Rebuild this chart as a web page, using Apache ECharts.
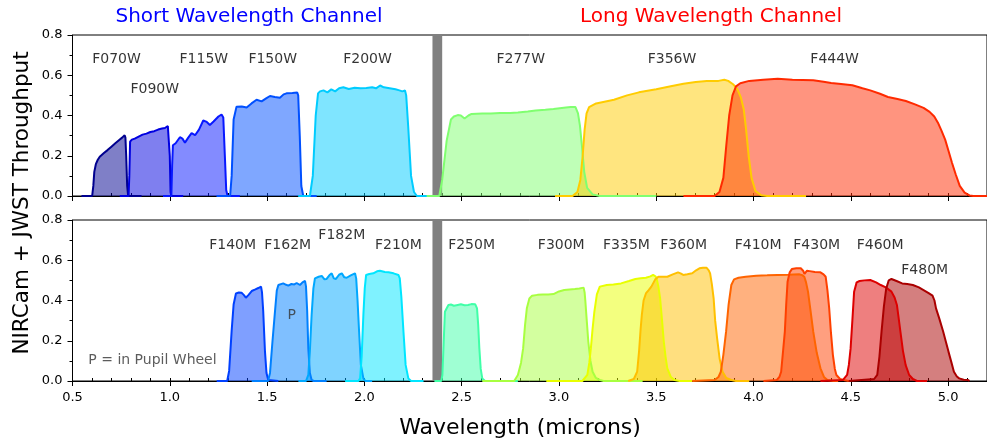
<!DOCTYPE html>
<html><head><meta charset="utf-8">
<script src="https://cdn.jsdelivr.net/npm/echarts@6/dist/echarts.min.js"></script>
<style>html,body{margin:0;padding:0;background:#fff}#c{width:987px;height:444px}</style>
</head><body><div id="c"></div><script>
// ---- Data: wavelength (microns), throughput ----
const F070W = [[0.546,0],[0.601,0],[0.607,0.05],[0.612,0.12],[0.62,0.158],[0.63,0.18],[0.64,0.195],[0.65,0.2],[0.66,0.212],[0.67,0.218],[0.68,0.228],[0.69,0.236],[0.70,0.245],[0.71,0.25],[0.72,0.262],[0.73,0.268],[0.74,0.278],[0.75,0.284],[0.755,0.29],[0.762,0.295],[0.768,0.302],[0.772,0.29],[0.776,0.2],[0.781,0.05],[0.786,0],[0.855,0]];
const F090W = [[0.743,0],[0.788,0],[0.792,0.1],[0.796,0.27],[0.805,0.28],[0.82,0.285],[0.83,0.292],[0.845,0.298],[0.86,0.305],[0.88,0.31],[0.9,0.318],[0.92,0.322],[0.94,0.33],[0.96,0.335],[0.975,0.338],[0.99,0.348],[0.996,0.34],[1.0,0.2],[1.004,0.02],[1.008,0],[1.069,0]];
const F115W = [[0.965,0],[1.008,0],[1.012,0.15],[1.016,0.252],[1.03,0.262],[1.052,0.292],[1.065,0.285],[1.078,0.265],[1.095,0.29],[1.112,0.312],[1.13,0.302],[1.15,0.33],[1.172,0.375],[1.19,0.368],[1.206,0.353],[1.225,0.37],[1.25,0.395],[1.266,0.405],[1.275,0.39],[1.283,0.2],[1.29,0.03],[1.297,0],[1.36,0]];
const F150W = [[1.24,0],[1.31,0],[1.318,0.1],[1.328,0.38],[1.343,0.444],[1.37,0.445],[1.395,0.44],[1.42,0.46],[1.446,0.478],[1.472,0.47],[1.495,0.485],[1.515,0.497],[1.54,0.492],[1.566,0.488],[1.585,0.505],[1.6,0.51],[1.63,0.512],[1.655,0.514],[1.66,0.5],[1.668,0.3],[1.676,0.05],[1.686,0],[1.755,0]];
const F200W = [[1.66,0],[1.72,0],[1.735,0.1],[1.75,0.4],[1.762,0.51],[1.772,0.52],[1.79,0.525],[1.81,0.515],[1.83,0.53],[1.85,0.52],[1.87,0.535],[1.892,0.54],[1.92,0.532],[1.95,0.538],[1.98,0.535],[2.01,0.537],[2.04,0.54],[2.06,0.535],[2.081,0.549],[2.10,0.54],[2.13,0.535],[2.16,0.53],[2.18,0.525],[2.195,0.52],[2.209,0.524],[2.215,0.5],[2.225,0.35],[2.24,0.1],[2.255,0.02],[2.27,0],[2.33,0]];
const F277W = [[2.32,0],[2.385,0],[2.40,0.08],[2.423,0.275],[2.445,0.38],[2.46,0.395],[2.48,0.402],[2.496,0.40],[2.515,0.385],[2.535,0.4],[2.551,0.408],[2.606,0.41],[2.65,0.41],[2.698,0.412],[2.75,0.412],[2.789,0.415],[2.84,0.42],[2.88,0.425],[2.93,0.428],[2.972,0.432],[3.036,0.44],[3.06,0.442],[3.085,0.442],[3.098,0.41],[3.108,0.35],[3.118,0.25],[3.13,0.12],[3.145,0.04],[3.173,0.008],[3.21,0],[3.5,0]];
const F356W = [[2.98,0],[3.07,0],[3.095,0.02],[3.11,0.08],[3.122,0.2],[3.132,0.33],[3.142,0.41],[3.155,0.442],[3.191,0.46],[3.24,0.47],[3.283,0.478],[3.35,0.5],[3.411,0.515],[3.5,0.53],[3.575,0.545],[3.64,0.558],[3.703,0.566],[3.76,0.572],[3.82,0.572],[3.85,0.578],[3.87,0.572],[3.895,0.555],[3.915,0.535],[3.935,0.49],[3.95,0.43],[3.962,0.33],[3.975,0.2],[3.99,0.09],[4.01,0.025],[4.04,0.004],[4.07,0],[4.27,0]];
const F444W = [[3.64,0],[3.80,0],[3.825,0.02],[3.845,0.09],[3.86,0.25],[3.875,0.4],[3.892,0.5],[3.91,0.545],[3.932,0.56],[3.978,0.572],[4.05,0.578],[4.124,0.582],[4.2,0.578],[4.307,0.575],[4.36,0.568],[4.399,0.562],[4.45,0.557],[4.508,0.55],[4.56,0.535],[4.6,0.525],[4.65,0.508],[4.691,0.492],[4.74,0.482],[4.783,0.472],[4.83,0.455],[4.874,0.438],[4.905,0.418],[4.929,0.395],[4.95,0.36],[4.966,0.325],[4.985,0.28],[5.002,0.225],[5.02,0.165],[5.039,0.108],[5.06,0.05],[5.085,0.017],[5.11,0.003],[5.13,0],[5.2,0]];

const F140M = [[1.241,0],[1.295,0],[1.305,0.05],[1.318,0.25],[1.328,0.38],[1.34,0.435],[1.355,0.44],[1.369,0.438],[1.38,0.428],[1.391,0.414],[1.405,0.428],[1.421,0.447],[1.44,0.455],[1.455,0.462],[1.469,0.469],[1.474,0.44],[1.48,0.35],[1.489,0.15],[1.497,0.04],[1.506,0.005],[1.515,0],[1.558,0]];
const F162M = [[1.421,0],[1.505,0],[1.515,0.04],[1.528,0.2],[1.541,0.35],[1.55,0.45],[1.558,0.477],[1.583,0.485],[1.598,0.478],[1.609,0.474],[1.625,0.482],[1.64,0.48],[1.652,0.487],[1.669,0.477],[1.682,0.49],[1.695,0.497],[1.700,0.47],[1.706,0.35],[1.712,0.16],[1.72,0.04],[1.729,0.005],[1.74,0],[1.806,0]];
const F182M = [[1.661,0],[1.70,0],[1.712,0.03],[1.72,0.15],[1.729,0.33],[1.738,0.46],[1.746,0.51],[1.765,0.518],[1.781,0.522],[1.795,0.505],[1.806,0.507],[1.82,0.525],[1.832,0.535],[1.843,0.51],[1.854,0.507],[1.87,0.528],[1.884,0.535],[1.897,0.515],[1.909,0.513],[1.93,0.525],[1.952,0.535],[1.958,0.51],[1.965,0.4],[1.973,0.245],[1.982,0.08],[1.995,0.013],[2.005,0],[2.04,0]];
const F210M = [[1.901,0],[1.97,0],[1.978,0.013],[1.986,0.12],[1.995,0.33],[2.002,0.46],[2.009,0.527],[2.025,0.532],[2.046,0.535],[2.065,0.545],[2.08,0.548],[2.09,0.551],[2.105,0.542],[2.124,0.54],[2.15,0.535],[2.175,0.527],[2.182,0.51],[2.19,0.42],[2.201,0.245],[2.212,0.08],[2.226,0.013],[2.24,0],[2.304,0]];
const F250M = [[2.36,0],[2.395,0],[2.401,0.03],[2.408,0.2],[2.414,0.344],[2.432,0.378],[2.445,0.38],[2.46,0.374],[2.48,0.378],[2.496,0.381],[2.515,0.376],[2.533,0.378],[2.55,0.382],[2.57,0.381],[2.579,0.361],[2.585,0.28],[2.591,0.162],[2.598,0.06],[2.606,0.013],[2.62,0],[2.789,0]];
const F300M = [[2.606,0],[2.77,0],[2.789,0.03],[2.805,0.09],[2.816,0.162],[2.826,0.28],[2.835,0.361],[2.848,0.41],[2.862,0.424],[2.89,0.428],[2.917,0.43],[2.945,0.43],[2.972,0.432],[3.0,0.445],[3.027,0.452],[3.055,0.455],[3.082,0.457],[3.105,0.46],[3.127,0.464],[3.132,0.44],[3.136,0.394],[3.143,0.3],[3.151,0.195],[3.162,0.1],[3.173,0.046],[3.19,0.015],[3.21,0.005],[3.23,0],[3.43,0]];
const F335M = [[2.935,0],[3.12,0],[3.146,0.03],[3.156,0.09],[3.164,0.162],[3.173,0.26],[3.182,0.344],[3.195,0.43],[3.21,0.469],[3.246,0.477],[3.28,0.48],[3.319,0.485],[3.36,0.497],[3.393,0.507],[3.42,0.51],[3.447,0.513],[3.47,0.52],[3.484,0.527],[3.496,0.52],[3.502,0.51],[3.511,0.47],[3.52,0.411],[3.53,0.3],[3.539,0.195],[3.548,0.12],[3.557,0.063],[3.575,0.02],[3.594,0.005],[3.62,0],[3.685,0]];
const F360M = [[3.356,0],[3.385,0.01],[3.402,0.046],[3.412,0.15],[3.42,0.26],[3.426,0.328],[3.435,0.4],[3.447,0.435],[3.46,0.45],[3.475,0.469],[3.495,0.505],[3.511,0.518],[3.535,0.518],[3.557,0.518],[3.585,0.53],[3.612,0.54],[3.625,0.535],[3.639,0.527],[3.66,0.53],[3.685,0.535],[3.705,0.55],[3.722,0.56],[3.74,0.563],[3.758,0.563],[3.77,0.55],[3.777,0.535],[3.786,0.48],[3.795,0.411],[3.803,0.3],[3.813,0.212],[3.826,0.11],[3.841,0.046],[3.86,0.015],[3.886,0.005],[3.91,0],[3.978,0]];
const F410M = [[3.685,0],[3.80,0.005],[3.82,0.02],[3.832,0.046],[3.845,0.13],[3.859,0.245],[3.872,0.38],[3.886,0.477],[3.9,0.505],[3.923,0.513],[3.96,0.518],[4.014,0.523],[4.07,0.525],[4.124,0.527],[4.18,0.528],[4.234,0.53],[4.25,0.526],[4.261,0.518],[4.27,0.49],[4.28,0.444],[4.293,0.35],[4.307,0.245],[4.325,0.14],[4.344,0.063],[4.362,0.02],[4.38,0.005],[4.41,0],[4.435,0]];
const F430M = [[4.051,0],[4.12,0.005],[4.133,0.02],[4.142,0.046],[4.152,0.15],[4.161,0.245],[4.168,0.38],[4.175,0.493],[4.186,0.54],[4.197,0.556],[4.22,0.56],[4.243,0.56],[4.255,0.548],[4.262,0.532],[4.27,0.535],[4.275,0.548],[4.289,0.546],[4.315,0.542],[4.344,0.54],[4.36,0.53],[4.371,0.518],[4.38,0.45],[4.389,0.361],[4.398,0.24],[4.408,0.129],[4.418,0.06],[4.426,0.03],[4.445,0.01],[4.463,0.005],[4.49,0]];
const F460M = [[4.344,0],[4.46,0.005],[4.481,0.03],[4.49,0.08],[4.499,0.162],[4.508,0.3],[4.517,0.444],[4.53,0.49],[4.545,0.497],[4.57,0.5],[4.6,0.502],[4.63,0.49],[4.654,0.477],[4.68,0.465],[4.709,0.444],[4.725,0.415],[4.737,0.378],[4.745,0.32],[4.755,0.245],[4.768,0.15],[4.782,0.079],[4.8,0.03],[4.819,0.01],[4.84,0],[4.892,0]];
const F480M = [[4.49,0],[4.62,0.01],[4.636,0.03],[4.647,0.12],[4.658,0.245],[4.67,0.37],[4.682,0.46],[4.695,0.5],[4.709,0.507],[4.735,0.497],[4.764,0.485],[4.79,0.482],[4.819,0.477],[4.85,0.465],[4.874,0.452],[4.9,0.437],[4.92,0.424],[4.93,0.4],[4.938,0.361],[4.955,0.31],[4.975,0.245],[4.99,0.19],[5.002,0.146],[5.015,0.1],[5.03,0.046],[5.045,0.022],[5.057,0.013],[5.08,0.006],[5.103,0.005],[5.11,0]];

const wideNames = ['F070W','F090W','F115W','F150W','F200W','F277W','F356W','F444W'];
const wideData = [F070W,F090W,F115W,F150W,F200W,F277W,F356W,F444W];
const wideColors = ['#00008f','#0000e0','#0818ff','#0050ff','#00ccff','#80ff70','#ffcc00','#ff2a00'];
const wideLabelPos = [[0.726,0.677],[0.923,0.53],[1.175,0.677],[1.529,0.677],[2.016,0.677],[2.804,0.677],[3.581,0.677],[4.417,0.677]];

const medNames = ['F140M','F162M','F182M','F210M','F250M','F300M','F335M','F360M','F410M','F430M','F460M','F480M'];
const medData = [F140M,F162M,F182M,F210M,F250M,F300M,F335M,F360M,F410M,F430M,F460M,F480M];
const medColors = ['#0040ff','#0080ff','#00a8ff','#00e6ff','#40ffa8','#a8ff40','#e8ff00','#ffc000','#ff6400','#ff4000','#dd0000','#aa0000'];
const medLabelPos = [[1.323,0.673],[1.606,0.673],[1.884,0.723],[2.175,0.673],[2.551,0.673],[3.012,0.673],[3.347,0.673],[3.641,0.673],[4.024,0.673],[4.325,0.673],[4.651,0.673],[4.88,0.552]];

const xTicks = ['0.5','1.0','1.5','2.0','2.5','3.0','3.5','4.0','4.5','5.0'];
const yTicks = ['0.0','0.2','0.4','0.6','0.8'];
const gapSpan = [2.35, 2.40];

const FONT = 'DejaVu Sans';
const chart = echarts.init(document.getElementById('c'));

function lineSeries(name, data, color, gi) {
  return {type:'line', name, data, xAxisIndex: gi, yAxisIndex: gi, symbol:'none', silent:true,
    lineStyle:{color, width:2}, itemStyle:{color}, areaStyle:{color, opacity:0.5}, z:2};
}
function labelSeries(names, pos, gi) {
  return {type:'scatter', xAxisIndex: gi, yAxisIndex: gi, symbolSize:0, silent:true, z:6,
    data: names.map((n,i)=>[pos[i][0], pos[i][1], n]),
    label:{show:true, position:'inside', formatter:p=>p.data[2], color:'#000', fontSize:14, fontFamily:FONT}};
}
function gapSeries(gi) {
  return {type:'scatter', xAxisIndex: gi, yAxisIndex: gi, data:[], silent:true, z:5,
    markArea:{silent:true, itemStyle:{color:'#808080', opacity:1}, data:[[{xAxis:gapSpan[0]},{xAxis:gapSpan[1]}]]}};
}

const series = [];
wideData.forEach((d,i)=>series.push(lineSeries(wideNames[i], d, wideColors[i], 0)));
medData.forEach((d,i)=>series.push(lineSeries(medNames[i], d, medColors[i], 1)));
series.push(gapSeries(0), gapSeries(1));
series.push(labelSeries(wideNames, wideLabelPos, 0), labelSeries(medNames, medLabelPos, 1));
series.push({type:'scatter', xAxisIndex:1, yAxisIndex:1, symbolSize:0, silent:true, z:6,
  data:[[1.627,0.325,'P'],[0.911,0.104,'P = in Pupil Wheel']],
  label:{show:true, position:'inside', formatter:p=>p.data[2], color:'#333', fontSize:14, fontFamily:FONT}});

function xMajor(gi, showLabels) {
  return {gridIndex:gi, type:'value', min:0.5, max:5.2, interval:0.5,
    axisLine:{onZero:false, lineStyle:{color:'#000', width:1}},
    axisTick:{length:5, lineStyle:{color:'#000', width:1}},
    axisLabel:{show:showLabels, showMaxLabel:false, margin:10, fontSize:13, color:'#000', fontFamily:FONT,
      formatter:v=>{const s=v.toFixed(1); return xTicks.indexOf(s)>=0?s:'';}},
    splitLine:{show:false}};
}
function xMinor(gi) {
  return {gridIndex:gi, type:'value', min:0.5, max:5.2, interval:0.1,
    axisLine:{show:false}, axisTick:{length:3, lineStyle:{color:'#000', width:1}},
    axisLabel:{show:false}, splitLine:{show:false}};
}
function yAx(gi) {
  return {gridIndex:gi, type:'value', min:0, max:0.8, interval:0.2,
    axisLine:{show:true, lineStyle:{color:'#000', width:1}},
    axisTick:{show:true, length:5, lineStyle:{color:'#000', width:1}},
    minorTick:{show:true, splitNumber:2, length:3, lineStyle:{color:'#000', width:1}},
    axisLabel:{margin:10, fontSize:13, color:'#000', fontFamily:FONT,
      formatter:v=>{const s=v.toFixed(1); return yTicks.indexOf(s)>=0?s:'';}},
    splitLine:{show:false}};
}

chart.setOption({
  animation:false,
  backgroundColor:'#fff',
  grid:[
    {left:72.5, right:0, top:35, height:161, show:true, borderColor:'#000', borderWidth:1, backgroundColor:'transparent'},
    {left:72.5, right:0, top:220, height:161, show:true, borderColor:'#000', borderWidth:1, backgroundColor:'transparent'}
  ],
  xAxis:[xMajor(0,false), xMajor(1,true), xMinor(0), xMinor(1)],
  yAxis:[yAx(0), yAx(1)],
  series,
  graphic:[
    {type:'text', x:249, y:17, style:{text:'Short Wavelength Channel', fill:'#0000ff', font:'20px "DejaVu Sans"', textAlign:'center', textVerticalAlign:'middle'}},
    {type:'text', x:711, y:17, style:{text:'Long Wavelength Channel', fill:'#ff0000', font:'20px "DejaVu Sans"', textAlign:'center', textVerticalAlign:'middle'}},
    {type:'text', x:520, y:428, style:{text:'Wavelength (microns)', fill:'#000', font:'22px "DejaVu Sans"', textAlign:'center', textVerticalAlign:'middle'}},
    {type:'text', x:22, y:203, rotation:Math.PI/2, style:{text:'NIRCam + JWST Throughput', fill:'#000', font:'21.5px "DejaVu Sans"', textAlign:'center', textVerticalAlign:'middle'}}
  ]
});
</script></body></html>
